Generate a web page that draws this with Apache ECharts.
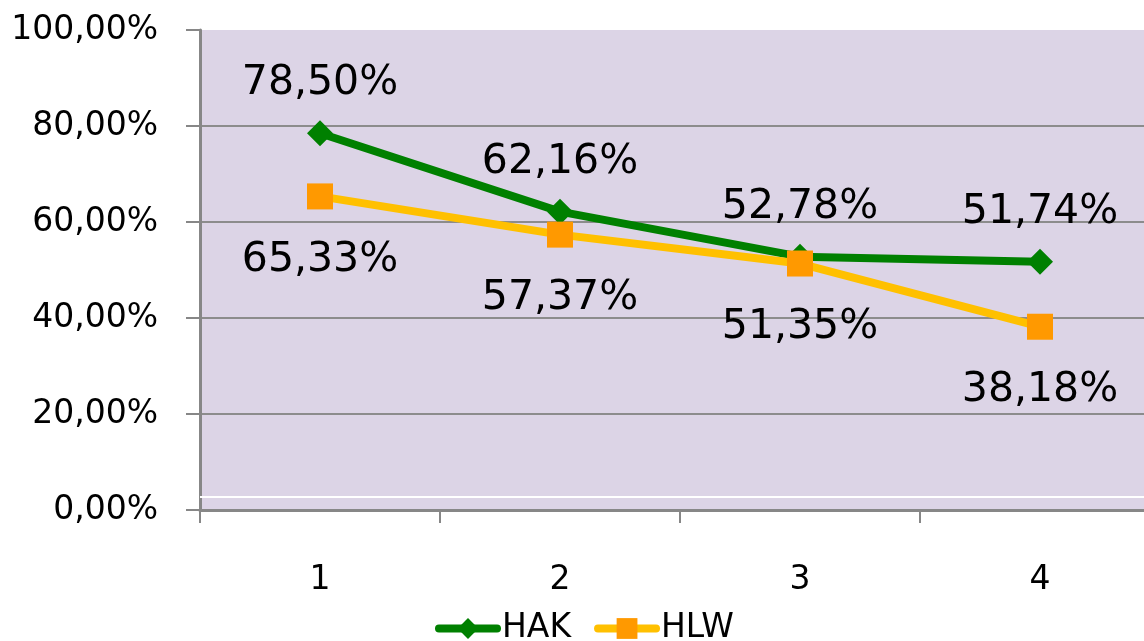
<!DOCTYPE html>
<html>
<head>
<meta charset="utf-8">
<script src="https://cdn.jsdelivr.net/npm/echarts@6/dist/echarts.min.js"></script>
<style>
  html, body { margin: 0; padding: 0; background: #fff; }
  #chart { width: 1144px; height: 641px; }
</style>
</head>
<body>
<div id="chart"></div>
<script>
// data
var categories = ['1', '2', '3', '4'];
var hak = [78.50, 62.16, 52.78, 51.74];
var hlw = [65.33, 57.37, 51.35, 38.18];
var seriesNames = ['HAK', 'HLW'];

var pct = function (v) {
  return v.toFixed(2).replace('.', ',') + '%';
};

var font = 'DejaVu Sans';
var chart = echarts.init(document.getElementById('chart'));

var option = {
  animation: false,
  grid: {
    left: 200, top: 30, width: 960, height: 480,
    outerBoundsMode: 'none',
    show: true,
    backgroundColor: '#DCD4E6',
    borderWidth: 0
  },
  legend: {
    data: seriesNames,
    left: 430,
    top: 607,
    itemWidth: 58,
    itemHeight: 26,
    itemGap: 23,
    lineStyle: { width: 8, cap: 'round' },
    textStyle: { fontFamily: font, fontSize: 33, color: '#000' }
  },
  xAxis: {
    type: 'category',
    data: categories,
    boundaryGap: true,
    axisLine: { lineStyle: { color: '#878787', width: 3 } },
    axisTick: { show: true, length: 13, lineStyle: { color: '#878787', width: 2 } },
    axisLabel: { margin: 54, fontFamily: font, fontSize: 33, color: '#000' }
  },
  yAxis: {
    type: 'value',
    min: 0, max: 100, interval: 20,
    axisLine: { show: true, lineStyle: { color: '#878787', width: 3 } },
    axisTick: { show: true, length: 14, lineStyle: { color: '#878787', width: 2 } },
    splitLine: { showMaxLine: false, lineStyle: { color: '#8C8C8C', width: 2 } },
    axisLabel: { margin: 42, fontFamily: font, fontSize: 33, color: '#000', formatter: pct }
  },
  series: [
    {
      name: seriesNames[0],
      type: 'line',
      data: hak,
      symbol: 'diamond',
      symbolSize: 26,
      itemStyle: { color: '#008000' },
      lineStyle: { color: '#008000', width: 8 },
      label: {
        show: true, position: 'top', distance: 16,
        fontFamily: font, fontSize: 41, color: '#000',
        formatter: function (p) { return pct(p.value); }
      },
      markLine: {
        silent: true,
        symbol: 'none',
        label: { show: false },
        lineStyle: { color: '#ffffff', width: 2, type: 'solid' },
        data: [{ yAxis: 2.8 }]
      }
    },
    {
      name: seriesNames[1],
      type: 'line',
      data: hlw,
      symbol: 'rect',
      symbolSize: 26,
      itemStyle: { color: '#FF9900' },
      lineStyle: { color: '#FFC000', width: 8 },
      label: {
        show: true, position: 'bottom', distance: 30,
        fontFamily: font, fontSize: 41, color: '#000',
        formatter: function (p) { return pct(p.value); }
      }
    }
  ]
};

chart.setOption(option);
</script>
</body>
</html>
